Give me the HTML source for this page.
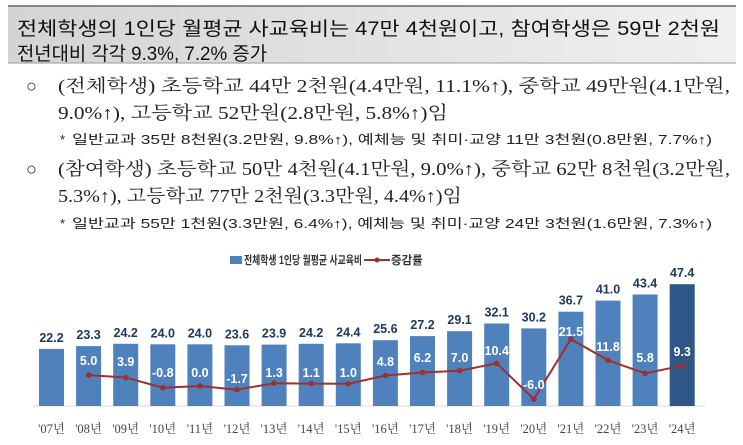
<!DOCTYPE html>
<html><head><meta charset="utf-8"><style>
body{margin:0;background:#fff;}
svg{display:block;}
</style></head><body>
<svg width="743" height="445" xmlns="http://www.w3.org/2000/svg">
<defs><linearGradient id="g" x1="0" y1="0" x2="1" y2="0"><stop offset="0" stop-color="#d4d4d4"/><stop offset="1" stop-color="#f0f0f0"/></linearGradient></defs>
<rect x="8" y="6" width="728" height="57" fill="url(#g)"/>
<line x1="8" y1="6" x2="736" y2="6" stroke="#666" stroke-width="1.5"/>
<line x1="8" y1="63" x2="736" y2="63" stroke="#999" stroke-width="1"/>
<g font-family="'Liberation Sans','Noto Sans CJK KR',sans-serif" font-size="19" fill="#111">
<text x="17" y="35" textLength="703" lengthAdjust="spacingAndGlyphs">전체학생의 1인당 월평균 사교육비는 47만 4천원이고, 참여학생은 59만 2천원</text>
<text x="17" y="60" textLength="250" lengthAdjust="spacingAndGlyphs">전년대비 각각 9.3%, 7.2% 증가</text>
</g>
<g font-family="'Liberation Serif','Noto Serif CJK KR',serif" font-size="18" fill="#222">
<text x="26" y="92">○</text>
<text x="58" y="92" textLength="672" lengthAdjust="spacingAndGlyphs">(전체학생) 초등학교 44만 2천원(4.4만원, 11.1%↑), 중학교 49만원(4.1만원,</text>
<text x="58" y="119" textLength="390" lengthAdjust="spacingAndGlyphs">9.0%↑), 고등학교 52만원(2.8만원, 5.8%↑)임</text>
<text x="26" y="175">○</text>
<text x="58" y="175" textLength="672" lengthAdjust="spacingAndGlyphs">(참여학생) 초등학교 50만 4천원(4.1만원, 9.0%↑), 중학교 62만 8천원(3.2만원,</text>
<text x="58" y="202" textLength="404" lengthAdjust="spacingAndGlyphs">5.3%↑), 고등학교 77만 2천원(3.3만원, 4.4%↑)임</text>
</g>
<g font-family="'Liberation Sans','Noto Sans CJK KR',sans-serif" font-size="13" fill="#222">
<text x="60" y="144">*</text>
<text x="72" y="144" textLength="640" lengthAdjust="spacingAndGlyphs">일반교과 35만 8천원(3.2만원, 9.8%↑), 예체능 및 취미·교양 11만 3천원(0.8만원, 7.7%↑)</text>
<text x="60" y="228">*</text>
<text x="72" y="228" textLength="640" lengthAdjust="spacingAndGlyphs">일반교과 55만 1천원(3.3만원, 6.4%↑), 예체능 및 취미·교양 24만 3천원(1.6만원, 7.3%↑)</text>
</g>
<rect x="230" y="256" width="12" height="8" fill="#4f81bd"/>
<text x="244" y="264" font-family="'Liberation Sans','Noto Sans CJK KR',sans-serif" font-size="11.5" font-weight="bold" fill="#333" textLength="118" lengthAdjust="spacingAndGlyphs">전체학생 1인당 월평균 사교육비</text>
<line x1="364" y1="260" x2="390" y2="260" stroke="#a0302c" stroke-width="2"/>
<circle cx="377" cy="260" r="2.5" fill="#a0302c"/>
<text x="391" y="264" font-family="'Liberation Sans','Noto Sans CJK KR',sans-serif" font-size="11.5" font-weight="bold" fill="#333">증감률</text>
<line x1="33" y1="406" x2="705" y2="406" stroke="#d9d9d9" stroke-width="1"/>
<g fill="#4f81bd">
<rect x="39" y="348.9" width="25" height="57.1"/>
<rect x="76.1" y="346.1" width="25" height="59.9"/>
<rect x="113.2" y="343.8" width="25" height="62.2"/>
<rect x="150.3" y="344.3" width="25" height="61.7"/>
<rect x="187.4" y="344.3" width="25" height="61.7"/>
<rect x="224.5" y="345.3" width="25" height="60.7"/>
<rect x="261.6" y="344.6" width="25" height="61.4"/>
<rect x="298.7" y="343.8" width="25" height="62.2"/>
<rect x="335.8" y="343.3" width="25" height="62.7"/>
<rect x="372.9" y="340.2" width="25" height="65.8"/>
<rect x="410" y="336.1" width="25" height="69.9"/>
<rect x="447.1" y="331.2" width="25" height="74.8"/>
<rect x="484.2" y="323.5" width="25" height="82.5"/>
<rect x="521.3" y="328.4" width="25" height="77.6"/>
<rect x="558.4" y="311.7" width="25" height="94.3"/>
<rect x="595.5" y="300.6" width="25" height="105.4"/>
<rect x="632.6" y="294.5" width="25" height="111.5"/>
<rect x="669.7" y="284.2" width="25" height="121.8" fill="#2e5686"/>
</g>
<g font-family="'Liberation Sans','DejaVu Sans',sans-serif" font-weight="bold" font-size="12.5" text-anchor="middle" fill="#1f3864">
<text x="51.5" y="341.9">22.2</text>
<text x="88.6" y="339.1">23.3</text>
<text x="125.7" y="336.8">24.2</text>
<text x="162.8" y="337.3">24.0</text>
<text x="199.9" y="337.3">24.0</text>
<text x="237" y="338.3">23.6</text>
<text x="274.1" y="337.6">23.9</text>
<text x="311.2" y="336.8">24.2</text>
<text x="348.3" y="336.3">24.4</text>
<text x="385.4" y="333.2">25.6</text>
<text x="422.5" y="329.1">27.2</text>
<text x="459.6" y="324.2">29.1</text>
<text x="496.7" y="316.5">32.1</text>
<text x="533.8" y="321.4">30.2</text>
<text x="570.9" y="304.7">36.7</text>
<text x="608" y="293.6">41.0</text>
<text x="645.1" y="287.5">43.4</text>
<text x="682.2" y="277.2">47.4</text>
</g>
<polyline points="88.6,375.1 125.7,377.5 162.8,387.7 199.9,386 237,389.7 274.1,383.2 311.2,383.6 348.3,383.8 385.4,375.5 422.5,372.5 459.6,370.7 496.7,363.3 533.8,399.1 570.9,339.1 608,360.3 645.1,373.4 682.2,365.7" fill="none" stroke="#a0302c" stroke-width="2"/>
<g fill="#a0302c">
<circle cx="88.6" cy="375.1" r="2.8"/><circle cx="125.7" cy="377.5" r="2.8"/><circle cx="162.8" cy="387.7" r="2.8"/><circle cx="199.9" cy="386" r="2.8"/><circle cx="237" cy="389.7" r="2.8"/><circle cx="274.1" cy="383.2" r="2.8"/><circle cx="311.2" cy="383.6" r="2.8"/><circle cx="348.3" cy="383.8" r="2.8"/><circle cx="385.4" cy="375.5" r="2.8"/><circle cx="422.5" cy="372.5" r="2.8"/><circle cx="459.6" cy="370.7" r="2.8"/><circle cx="496.7" cy="363.3" r="2.8"/><circle cx="533.8" cy="399.1" r="2.8"/><circle cx="570.9" cy="339.1" r="2.8"/><circle cx="608" cy="360.3" r="2.8"/><circle cx="645.1" cy="373.4" r="2.8"/><circle cx="682.2" cy="365.7" r="2.8"/>
</g>
<g font-family="'Liberation Sans','DejaVu Sans',sans-serif" font-weight="bold" font-size="12.5" text-anchor="middle" fill="#fff">
<text x="88.6" y="365">5.0</text>
<text x="125.7" y="366">3.9</text>
<text x="162.8" y="377">-0.8</text>
<text x="199.9" y="377">0.0</text>
<text x="237" y="383">-1.7</text>
<text x="274.1" y="377">1.3</text>
<text x="311.2" y="377">1.1</text>
<text x="348.3" y="377">1.0</text>
<text x="385.4" y="366">4.8</text>
<text x="422.5" y="362">6.2</text>
<text x="459.6" y="362">7.0</text>
<text x="496.7" y="355">10.4</text>
<text x="533.8" y="389">-6.0</text>
<text x="570.9" y="336">21.5</text>
<text x="608" y="351">11.8</text>
<text x="645.1" y="362">5.8</text>
<text x="682.2" y="356">9.3</text>
</g>
<g font-family="'Liberation Serif','Noto Serif CJK KR',serif" font-size="12.5" text-anchor="middle" fill="#444">
<text x="51.5" y="433">'07년</text><text x="88.6" y="433">'08년</text><text x="125.7" y="433">'09년</text><text x="162.8" y="433">'10년</text><text x="199.9" y="433">'11년</text><text x="237" y="433">'12년</text><text x="274.1" y="433">'13년</text><text x="311.2" y="433">'14년</text><text x="348.3" y="433">'15년</text><text x="385.4" y="433">'16년</text><text x="422.5" y="433">'17년</text><text x="459.6" y="433">'18년</text><text x="496.7" y="433">'19년</text><text x="533.8" y="433">'20년</text><text x="570.9" y="433">'21년</text><text x="608" y="433">'22년</text><text x="645.1" y="433">'23년</text><text x="682.2" y="433">'24년</text>
</g>
</svg>
</body></html>
